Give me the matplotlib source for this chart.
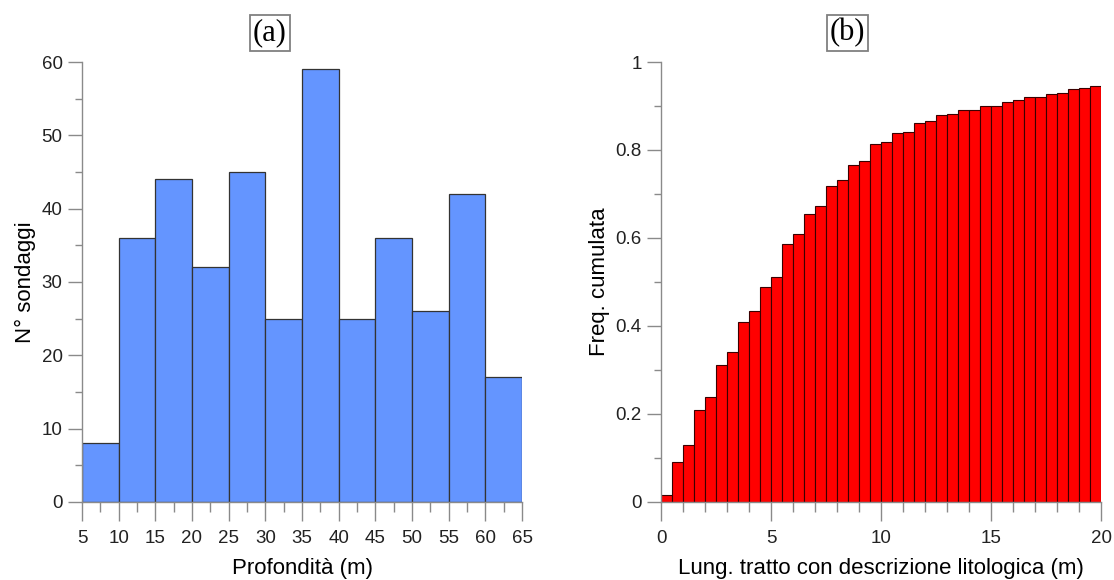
import numpy as np
import matplotlib.pyplot as plt
from matplotlib.ticker import MultipleLocator

# panel (a): histogram of borehole depth
depth_edges = [5, 10, 15, 20, 25, 30, 35, 40, 45, 50, 55, 60, 65]
n_boreholes = [8, 36, 44, 32, 45, 25, 59, 25, 36, 26, 42, 17]

# panel (b): cumulative frequency, bins of 0.5 m from 0 to 20 m
length_edges = list(np.arange(0, 20.5, 0.5))
cum_freq = [0.015, 0.091, 0.130, 0.210, 0.239, 0.312, 0.340, 0.408, 0.433, 0.488,
            0.511, 0.586, 0.610, 0.655, 0.672, 0.718, 0.731, 0.767, 0.774, 0.813,
            0.818, 0.839, 0.841, 0.862, 0.866, 0.880, 0.882, 0.892, 0.892, 0.899,
            0.901, 0.910, 0.913, 0.920, 0.920, 0.928, 0.930, 0.939, 0.941, 0.945]

plt.rcParams['font.family'] = ['Liberation Sans', 'DejaVu Sans']
axis_col = '#8a8a8a'

fig = plt.figure(figsize=(11.14, 5.8), dpi=100)
ax1 = fig.add_axes([0.0736, 0.1345, 0.395, 0.7586])
ax2 = fig.add_axes([0.5934, 0.1345, 0.395, 0.7586])


def style(ax):
    for s in ['top', 'right']:
        ax.spines[s].set_visible(False)
    for s in ['left', 'bottom']:
        ax.spines[s].set_color(axis_col)
        ax.spines[s].set_linewidth(1.0)
    ax.tick_params(which='major', length=10, width=1.0, color=axis_col,
                   labelsize=13.5, labelcolor='#222222', pad=4)
    ax.tick_params(which='minor', length=5, width=1.0, color=axis_col)
    ax.tick_params(axis='x', which='major', length=14, pad=6)
    ax.tick_params(axis='x', which='minor', length=7)


# (a)
ax1.bar(depth_edges[:-1], n_boreholes, width=5, align='edge',
        color='#6495ff', edgecolor='#333333', linewidth=0.9)
ax1.set_xlim(5, 65)
ax1.set_ylim(0, 60)
ax1.xaxis.set_major_locator(MultipleLocator(5))
ax1.xaxis.set_minor_locator(MultipleLocator(2.5))
ax1.yaxis.set_major_locator(MultipleLocator(10))
ax1.yaxis.set_minor_locator(MultipleLocator(5))
style(ax1)
ax1.set_xlabel('Profondità (m)', fontsize=16, labelpad=8)
ax1.set_ylabel('N° sondaggi', fontsize=16, labelpad=4)

# (b)
ax2.bar(length_edges[:-1], cum_freq, width=0.5, align='edge',
        color='#ff0000', edgecolor='#3a0000', linewidth=0.8)
ax2.set_xlim(0, 20)
ax2.set_ylim(0, 1)
ax2.xaxis.set_major_locator(MultipleLocator(5))
ax2.xaxis.set_minor_locator(MultipleLocator(1))
ax2.set_yticks([0, 0.2, 0.4, 0.6, 0.8, 1])
ax2.set_yticklabels(['0', '0.2', '0.4', '0.6', '0.8', '1'])
ax2.yaxis.set_minor_locator(MultipleLocator(0.1))
style(ax2)
ax2.set_xlabel('Lung. tratto con descrizione litologica (m)', fontsize=16, labelpad=8)
ax2.set_ylabel('Freq. cumulata', fontsize=16, labelpad=4)

box = dict(boxstyle='square,pad=0.1', facecolor='white', edgecolor='#808080', linewidth=1.3)
for ax, tag, xpos in [(ax1, '(a)', 0.427), (ax2, '(b)', 0.424)]:
    ax.text(xpos, 1.066, tag, transform=ax.transAxes, ha='center', va='center',
            fontsize=22, family=['Liberation Serif', 'DejaVu Serif'], bbox=box)

plt.savefig('out.png', dpi=100)
